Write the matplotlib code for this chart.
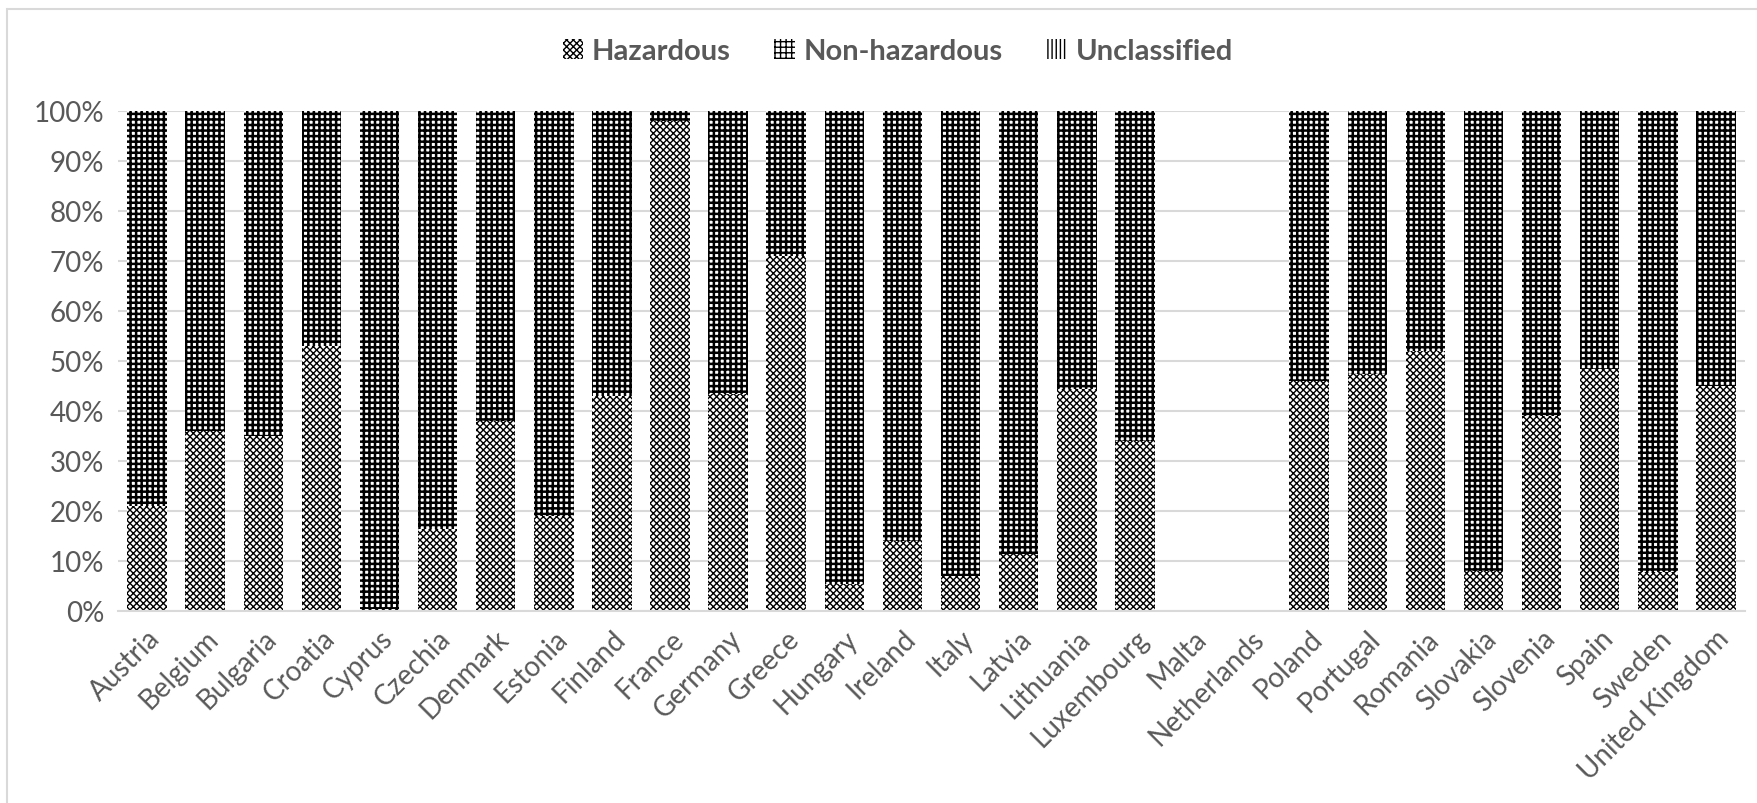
import matplotlib
matplotlib.use("Agg")
import matplotlib.pyplot as plt
from matplotlib.patches import Patch, Rectangle
from matplotlib.ticker import PercentFormatter

plt.rcParams['font.family'] = ['Lato', 'DejaVu Sans']

countries = ['Austria', 'Belgium', 'Bulgaria', 'Croatia', 'Cyprus', 'Czechia',
             'Denmark', 'Estonia', 'Finland', 'France', 'Germany', 'Greece',
             'Hungary', 'Ireland', 'Italy', 'Latvia', 'Lithuania', 'Luxembourg',
             'Malta', 'Netherlands', 'Poland', 'Portugal', 'Romania', 'Slovakia',
             'Slovenia', 'Spain', 'Sweden', 'United Kingdom']

# shares in percent (Malta and Netherlands have no data)
hazardous = [21, 36, 35, 53, 0.5, 16.5, 38, 19, 43, 98, 43.5, 71,
             5.5, 14, 7, 11.5, 44.5, 34, 0, 0, 46, 47.5, 52, 8,
             39, 48.5, 7.8, 45]
non_hazardous = [79, 64, 65, 47, 99.5, 83.5, 62, 81, 57, 2, 56.5, 29,
                 94.5, 86, 93, 88.5, 55.5, 66, 0, 0, 54, 52.5, 48, 92,
                 61, 51.5, 92.2, 55]
unclassified = [0] * len(countries)

grey = '#595959'
styles = [('xxxxx', 1.0), ('+++', 1.8), ('||||', 2.0)]

fig = plt.figure(figsize=(17.57, 8.04), dpi=100)
ax = fig.add_axes([118 / 1757, 1 - 612 / 804, (1745 - 118) / 1757, 500 / 804])

x = list(range(len(countries)))
w = 0.68

bottom2 = hazardous
bottom3 = [a + b for a, b in zip(hazardous, non_hazardous)]
series = [(hazardous, None), (non_hazardous, bottom2), (unclassified, bottom3)]

for (vals, bot), (hatch, lw) in zip(series, styles):
    bars = ax.bar(x, vals, w, bottom=bot, color='white', edgecolor='black',
                  linewidth=0, hatch=hatch, zorder=2)
    for p in bars:
        if hasattr(p, 'set_hatch_linewidth'):
            p.set_hatch_linewidth(lw)

ax.set_xlim(-0.5, len(countries) - 0.5)
ax.set_ylim(0, 100)
ax.set_yticks(range(0, 101, 10))
ax.yaxis.set_major_formatter(PercentFormatter(decimals=0))
ax.set_xticks(x)
ax.set_xticklabels(countries, rotation=45, ha='right', rotation_mode='anchor')
ax.tick_params(axis='both', length=0, labelsize=20, colors=grey)
ax.tick_params(axis='x', pad=10)
ax.tick_params(axis='y', pad=10)

ax.grid(axis='y', color='#d9d9d9', linewidth=1.5, zorder=0)
ax.set_axisbelow(True)
for s in ['top', 'right', 'left']:
    ax.spines[s].set_visible(False)
ax.spines['bottom'].set_color('#d9d9d9')
ax.spines['bottom'].set_linewidth(1.5)

handles = []
for hatch, lw in styles:
    h = Patch(facecolor='white', edgecolor='black', linewidth=0, hatch=hatch)
    if hasattr(h, 'set_hatch_linewidth'):
        h.set_hatch_linewidth(lw)
    handles.append(h)
leg = fig.legend(handles, ['Hazardous', 'Non-hazardous', 'Unclassified'],
                 loc='center', bbox_to_anchor=(0.511, 1 - 52 / 804), ncol=3,
                 frameon=False, handlelength=0.7, handleheight=0.7,
                 handletextpad=0.3, columnspacing=1.5,
                 prop={'weight': 'bold', 'size': 21})
for t in leg.get_texts():
    t.set_color(grey)

# light chart border
fig.patches.append(Rectangle((7 / 1757, -0.01), 1.0, 1 - 10 / 804 + 0.01,
                             transform=fig.transFigure, fill=False,
                             edgecolor='#d9d9d9', linewidth=1.5))

fig.savefig('out.png', dpi=100)
